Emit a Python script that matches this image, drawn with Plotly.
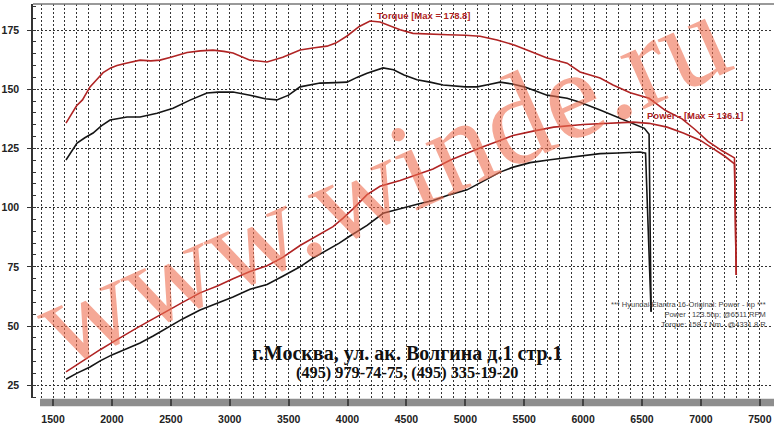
import plotly.graph_objects as go

# ---- data ----
red_torque_rpm = [1610, 1650, 1700, 1750, 1814, 1870, 1925, 1990, 2043, 2120, 2239, 2330, 2408, 2500, 2638,
                  2750, 2858, 2950, 3028, 3172, 3317, 3450, 3597, 3720, 3826, 3900, 3996, 4100, 4191, 4276,
                  4350, 4446, 4556, 4700, 4850, 5000, 5125, 5270, 5420, 5550, 5694, 5864, 5974, 6144, 6254,
                  6400, 6560, 6700, 6840, 6950, 7060, 7180, 7285, 7300]
red_torque = [135.7, 139, 143, 145.5, 151, 154, 157, 159, 160, 161, 162.3, 162, 162.3, 163.5, 165.5,
              166.2, 166.5, 166, 165.3, 162.3, 161.5, 163.5, 166.6, 167.5, 168.2, 169.5, 172.5, 176.5, 178.8, 178.4,
              177, 175.1, 173.6, 173.2, 173, 172.8, 172.4, 170.8, 168.6, 166, 163.2, 161, 157.3, 154.7, 151.8,
              148.5, 146.2, 141, 137.5, 133, 128, 124, 121, 71.5]

red_power_rpm = [1610, 1700, 1800, 1900, 2000, 2100, 2213, 2330, 2468, 2600, 2748, 2900, 3028, 3172, 3317,
                 3450, 3597, 3750, 3877, 3960, 4047, 4166, 4276, 4446, 4600, 4726, 4870, 5015, 5150, 5300,
                 5405, 5575, 5750, 6000, 6250, 6424, 6560, 6713, 6850, 6993, 7100, 7200, 7285, 7300]
red_power = [30.6, 33.5, 37, 40, 43, 46, 49.2, 52.5, 56.5, 60, 64, 67, 70, 73, 75.5,
             79, 84, 88.5, 92, 95.5, 99.5, 105.5, 109, 111.5, 114, 116.3, 120, 123, 125.7, 128.5,
             130.5, 132.3, 134, 135.1, 135.8, 136.1, 135.6, 134, 131.5, 128.5, 125, 121.8, 118.5, 71.5]

base_torque_rpm = [1610, 1650, 1704, 1770, 1840, 1910, 1984, 2128, 2239, 2383, 2519, 2663, 2807, 2900, 3028,
                   3172, 3300, 3400, 3500, 3597, 3767, 3900, 3996, 4080, 4166, 4302, 4390, 4480, 4590, 4700,
                   4811, 5000, 5100, 5200, 5295, 5400, 5500, 5575, 5694, 5864, 5974, 6144, 6254, 6424, 6520,
                   6560, 6577]
base_torque = [120.1, 123, 127.3, 129.5, 131.5, 134.5, 137, 138.3, 138.3, 139.9, 142, 145.4, 148.4, 148.8, 148.8,
               147.5, 146, 145.5, 147.5, 151, 152.6, 152.8, 153, 155, 156.8, 159, 158.2, 156, 154, 153,
               151.8, 151, 151, 152, 153, 152.2, 151, 149.7, 147.5, 146.2, 144.5, 141.2, 139, 135.7, 133.5,
               131, 56]

base_power_rpm = [1610, 1700, 1814, 1900, 2000, 2100, 2239, 2350, 2468, 2600, 2748, 2900, 3028, 3172, 3317,
                  3450, 3597, 3700, 3826, 3930, 4021, 4166, 4302, 4446, 4600, 4726, 4870, 5015, 5125, 5295,
                  5400, 5550, 5720, 5974, 6144, 6300, 6483, 6530, 6577]
base_power = [27.5, 30, 32.7, 35.3, 37.8, 40, 42.8, 45.8, 49.2, 53, 56.8, 59.8, 62.3, 65.5, 67.5,
              71, 75, 78.5, 82.1, 85, 88, 92.5, 97.6, 99.6, 101.5, 103, 105.5, 107.5, 110.5, 115,
              117, 119, 120.2, 121.8, 122.8, 123.1, 123.5, 123, 56]

x_ticks = [1500, 2000, 2500, 3000, 3500, 4000, 4500, 5000, 5500, 6000, 6500, 7000, 7500]
y_ticks = [25, 50, 75, 100, 125, 150, 175]

torque_label = "Torque [Max = 178.8]"
power_label = "Power - [Max = 136.1]"
info_lines = ["*** Hyundai-Elantra 16-Original: Power - hp ***",
              "Power : 123.5hp; @6511 RPM",
              "Torque: 158.7 Nm - @4331.8 R"]
address_1 = "г.Москва, ул. ак. Волгина д.1 стр.1"
address_2 = "(495) 979-74-75, (495) 335-19-20"
watermark = "www.winde.ru"

RED = "#b02424"
BLACK = "#151515"

fig = go.Figure()
for xs, ys, col in [(base_torque_rpm, base_torque, BLACK), (base_power_rpm, base_power, BLACK),
                    (red_torque_rpm, red_torque, RED), (red_power_rpm, red_power, RED)]:
    fig.add_trace(go.Scatter(x=xs, y=ys, mode="lines", line=dict(color=col, width=1.6),
                             hoverinfo="skip", showlegend=False))

tickfont = dict(family="Liberation Sans, Arial", size=10.5, color="#222", weight="bold")

fig.update_layout(
    width=774, height=424,
    margin=dict(l=33, r=3, t=4, b=26),
    paper_bgcolor="white", plot_bgcolor="white",
    showlegend=False,
    xaxis=dict(range=[1330, 7595], tickvals=x_ticks, ticks="outside", ticklen=7, tickwidth=1.5,
               tickcolor="#444", tickfont=tickfont, ticklabelstandoff=4, automargin=False,
               showgrid=True, gridcolor="#333", gridwidth=1, griddash="2px,2px",
               minor=dict(dtick=100, tick0=1500, showgrid=True, gridcolor="#333", gridwidth=1,
                          griddash="2px,2px", ticks=""),
               showline=False, zeroline=False),
    yaxis=dict(range=[19.6, 186], tickvals=y_ticks, ticks="outside", ticklen=4, tickcolor="#333",
               tickfont=tickfont, ticklabelstandoff=6, automargin=False,
               showgrid=True, gridcolor="#333", gridwidth=1, griddash="2px,2px",
               minor=dict(dtick=5, tick0=0, ticks="inside", ticklen=3, tickcolor="#333", showgrid=False),
               showline=True, linecolor="#333", linewidth=1.5, zeroline=False),
)

# gray band below the plot and top border
fig.add_shape(type="rect", xref="paper", yref="paper", x0=0.0095, x1=1.01, y0=-0.021, y1=-0.002,
              fillcolor="#8e8e8e", line=dict(width=0), layer="below")
fig.add_shape(type="line", xref="paper", yref="paper", x0=0, x1=1.01, y0=1, y1=1,
              line=dict(color="#777", width=1.5))

# watermark
fig.add_annotation(text=watermark, xref="paper", yref="paper", x=0.472, y=0.555,
                   xanchor="center", yanchor="middle", showarrow=False, textangle=-24,
                   font=dict(family="Liberation Serif, Times New Roman", size=126,
                             color="rgba(238,110,80,0.6)"))

fig.add_annotation(text=torque_label, x=4650, y=181.3, xref="x", yref="y", showarrow=False,
                   xanchor="center", yanchor="middle",
                   font=dict(family="Liberation Sans, Arial", size=9.5, color=RED, weight="bold"))
fig.add_annotation(text=power_label, x=6951, y=139.1, xref="x", yref="y", showarrow=False,
                   xanchor="center", yanchor="middle",
                   font=dict(family="Liberation Sans, Arial", size=9.5, color=RED, weight="bold"))

fig.add_annotation(text="<br>".join(info_lines), xref="paper", yref="paper", x=0.996, y=0.211,
                   xanchor="right", yanchor="middle", align="right", showarrow=False,
                   font=dict(family="Liberation Sans, Arial", size=7.5, color="#444"))

fig.add_annotation(text=address_1, xref="paper", yref="paper", x=0.507, y=0.114, showarrow=False,
                   xanchor="center", yanchor="middle",
                   font=dict(family="Liberation Serif, Times New Roman", size=20, color="#111", weight="bold"))
fig.add_annotation(text=address_2, xref="paper", yref="paper", x=0.507, y=0.0635, showarrow=False,
                   xanchor="center", yanchor="middle",
                   font=dict(family="Liberation Serif, Times New Roman", size=16.3, color="#111", weight="bold"))

fig.write_html("out.html", config={"displayModeBar": False},
               post_script="document.body.style.margin='0';document.body.style.overflow='hidden';")
